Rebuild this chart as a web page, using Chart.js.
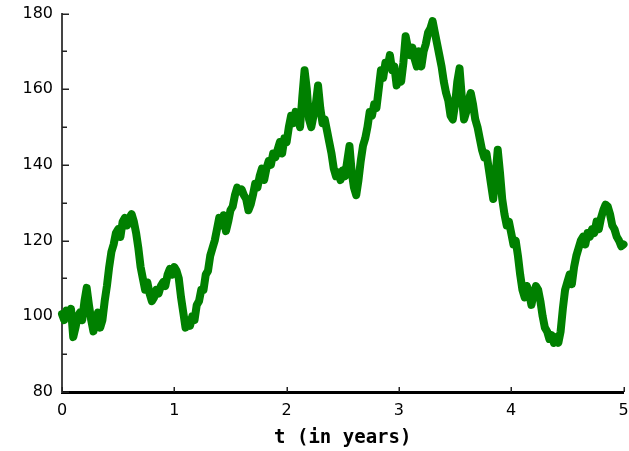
<!DOCTYPE html>
<html>
<head>
<meta charset="utf-8">
<script src="https://cdn.jsdelivr.net/npm/chart.js@4/dist/chart.umd.min.js"></script>
<style>
  html, body { margin: 0; padding: 0; background: #fff; }
  #wrap { width: 629px; height: 451px; }
</style>
</head>
<body>
<div id="wrap"><canvas id="priceChart"></canvas></div>
<script>
// price path, one value every 0.02 years
const prices = [
  100.6, 99, 101.5, 100, 102, 94.5, 97, 100, 101, 99,
  104, 107.5, 103, 99, 96, 99, 101, 97, 99, 104,
  108, 113, 117, 119, 122, 123, 121, 125, 126, 124,
  126, 127, 125, 122, 118, 113, 110, 107, 109, 106,
  104, 105, 107, 106, 108, 109, 108, 111, 112.5, 111,
  113, 112, 110, 105, 101, 97, 99, 97.5, 100, 99,
  103, 104, 107, 107, 111, 112, 116, 118, 120, 123,
  126, 124, 126.7, 122.5, 125, 128, 129, 132, 134, 133,
  133.5, 132, 131, 128, 129.5, 132, 135, 134, 137, 139,
  136, 139, 141, 140, 143, 142, 144, 146, 143, 147,
  146, 150, 153, 151, 154, 152, 150, 158, 165, 160,
  152, 150, 153, 156, 161, 155, 151, 152, 149, 146,
  143, 139, 137, 138, 136, 138.5, 137, 141, 145, 138,
  134, 132, 136, 141, 145, 147, 150, 154, 153, 156,
  155, 160, 165, 163, 167, 166, 169, 165, 166, 161,
  164, 162, 167, 174, 171, 169, 171, 168, 166, 170,
  166, 170, 172, 175, 176, 178, 175, 172, 169, 166,
  162, 159, 157, 153, 152, 156, 162, 165.5, 158, 152,
  154, 157, 159, 156, 152, 150, 147, 144, 142, 143,
  139, 135, 131, 137, 144, 138, 131, 127, 124, 125,
  122, 119, 120, 116, 111, 107, 105, 108, 106, 103,
  106, 108, 107, 104, 100, 97, 96, 94, 95, 93,
  94.5, 93, 96, 102, 107, 109, 111, 108.5, 113, 116,
  118, 120, 121, 119, 122, 121, 123, 122, 125, 123,
  126, 128, 129.5, 129, 127, 124, 123, 121, 120, 118.5,
  119
];
const timeStep = 0.02;
const yMinorTicks = [90, 110, 130, 150, 170];
const xLabel = 't (in years)';

const points = prices.map((v, i) => ({ x: +(i * timeStep).toFixed(2), y: v }));

// tick marks point into the plot, drawn under the line
const innerTicks = {
  id: 'innerTicks',
  beforeDatasetsDraw(chart) {
    const { ctx, chartArea, scales } = chart;
    ctx.save();
    ctx.strokeStyle = '#222';
    ctx.lineWidth = 1.5;
    scales.y.ticks.forEach(t => {
      const py = Math.round(scales.y.getPixelForValue(t.value)) + 0.25;
      ctx.beginPath();
      ctx.moveTo(chartArea.left, py);
      ctx.lineTo(chartArea.left + 7, py);
      ctx.stroke();
    });
    yMinorTicks.forEach(v => {
      const py = Math.round(scales.y.getPixelForValue(v)) + 0.25;
      ctx.beginPath();
      ctx.moveTo(chartArea.left, py);
      ctx.lineTo(chartArea.left + 5, py);
      ctx.stroke();
    });
    scales.x.ticks.forEach(t => {
      const px = Math.round(scales.x.getPixelForValue(t.value)) + 0.25;
      ctx.beginPath();
      ctx.moveTo(px, chartArea.bottom);
      ctx.lineTo(px, chartArea.bottom - 5);
      ctx.stroke();
    });
    ctx.restore();
  }
};

const ctx = document.getElementById('priceChart').getContext('2d');
const priceChart = new Chart(ctx, {
  type: 'line',
  data: {
    datasets: [{
      data: points,
      borderColor: '#008000',
      borderWidth: 8,
      borderJoinStyle: 'round',
      borderCapStyle: 'round',
      pointRadius: 0,
      tension: 0,
      fill: false,
      clip: false
    }]
  },
  options: {
    responsive: true,
    maintainAspectRatio: false,
    animation: false,
    layout: { padding: { top: 13.5, right: 5.5, left: 0, bottom: 0 } },
    plugins: {
      legend: { display: false },
      tooltip: { enabled: false }
    },
    scales: {
      x: {
        type: 'linear',
        min: 0,
        max: 5,
        ticks: {
          stepSize: 1,
          color: '#000',
          padding: 9,
          maxRotation: 0,
          font: { family: 'DejaVu Sans', size: 16 }
        },
        grid: { display: false, drawTicks: false },
        border: { display: true, color: '#000', width: 3 },
        title: {
          display: true,
          text: xLabel,
          color: '#000',
          padding: { top: 6, bottom: 2 },
          font: { family: 'DejaVu Sans Mono', size: 19, weight: 'bold' }
        },
        afterFit(scale) {
          scale.height = 59;
          scale.paddingLeft = 0;
          scale.paddingRight = 0;
        }
      },
      y: {
        min: 80,
        max: 180,
        ticks: {
          stepSize: 20,
          color: '#000',
          padding: 9,
          font: { family: 'DejaVu Sans', size: 16 }
        },
        grid: { display: false, drawTicks: false },
        border: { display: true, color: '#444', width: 2 },
        afterFit(scale) {
          scale.width = 62;
          scale.paddingTop = 0;
          scale.paddingBottom = 0;
        }
      }
    }
  },
  plugins: [innerTicks]
});
</script>
</body>
</html>
